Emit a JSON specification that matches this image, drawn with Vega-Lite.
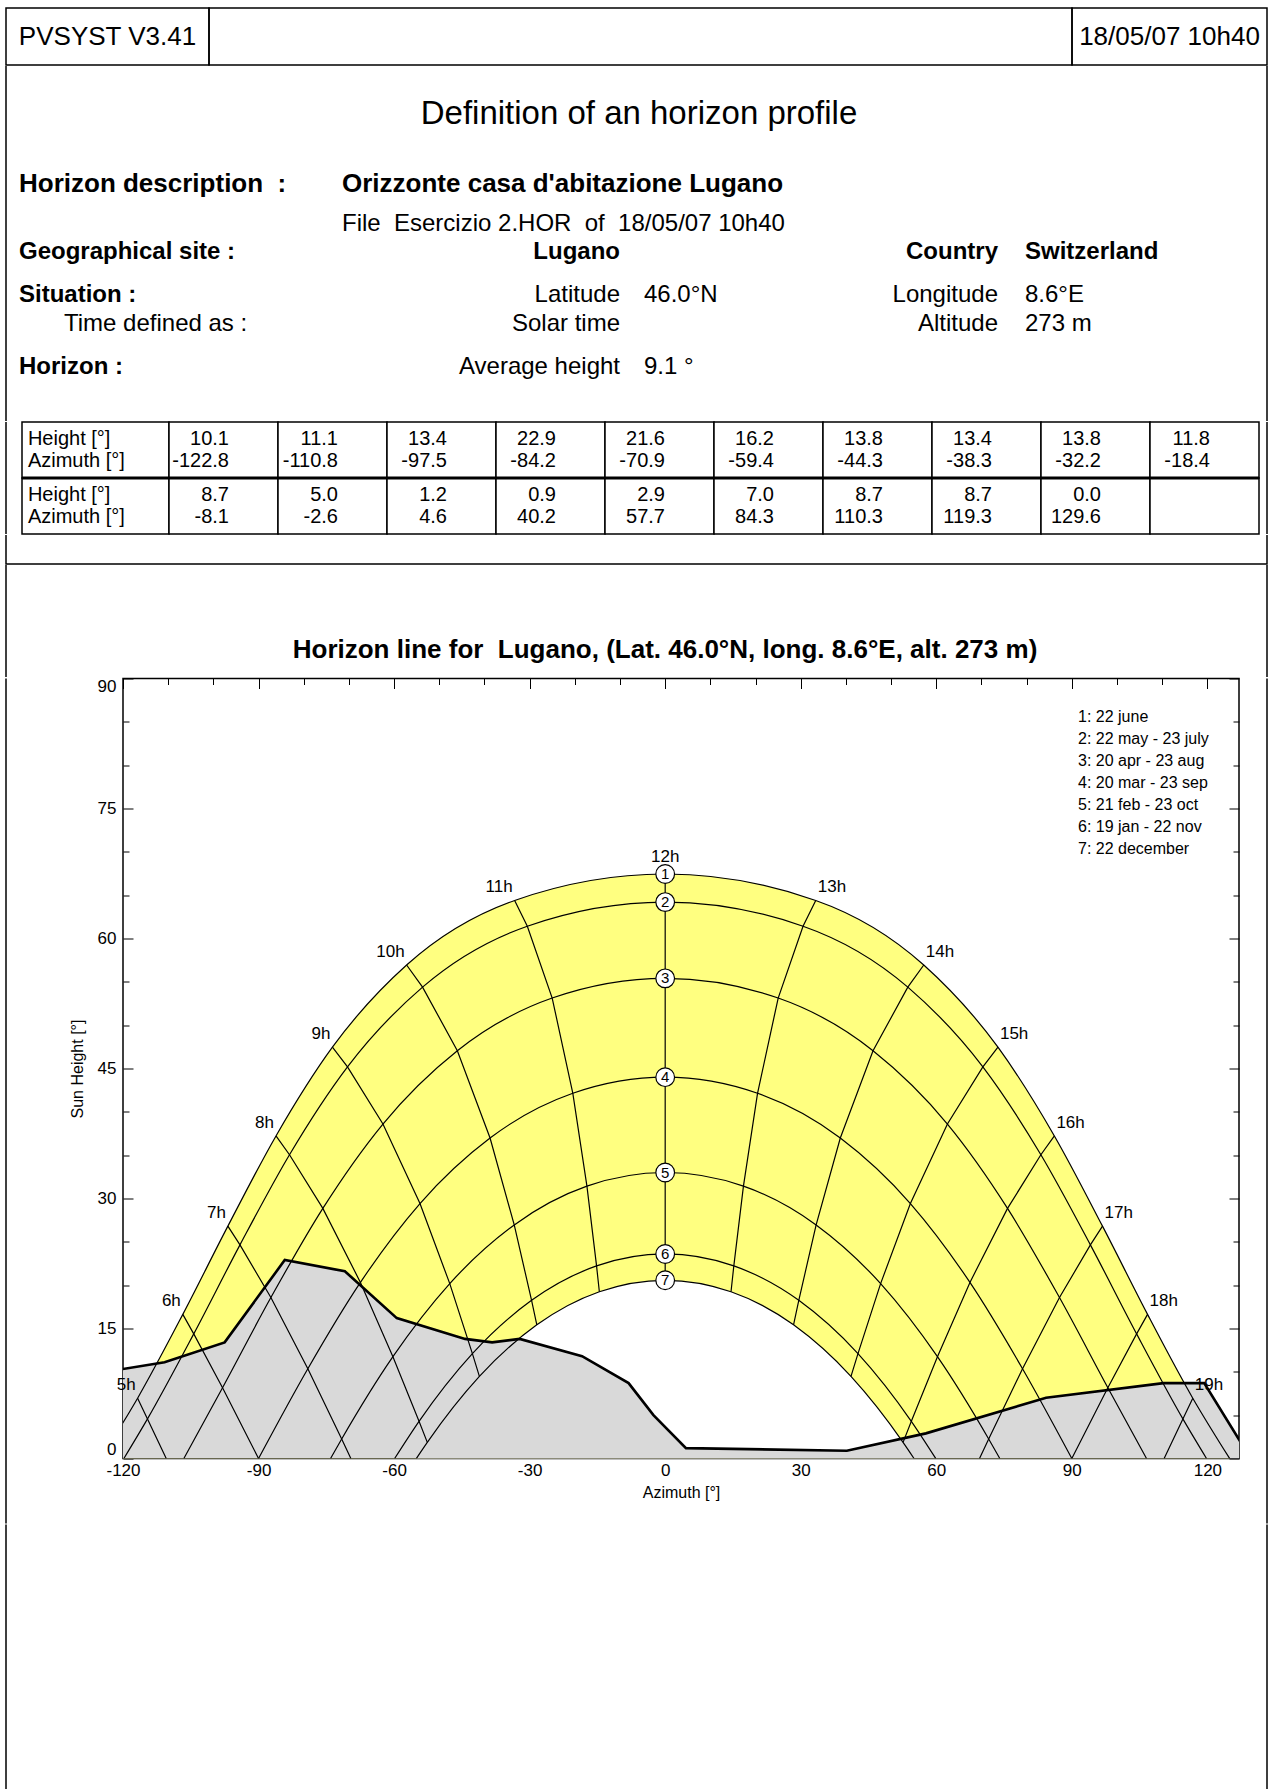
{
"$schema":"https://vega.github.io/schema/vega-lite/v6.json",
"padding":{"left":5,"top":7,"right":6,"bottom":2},
"background":"white",
"spacing":-1.5,
"resolve":{"legend":{"color":"independent"}},
"config":{
 "font":"Liberation Sans",
 "locale":{"number":{"decimal":".","thousands":",","grouping":[3],"currency":["",""],"minus":"-"}},
 "view":{"stroke":null},
 "text":{"color":"black","font":"Liberation Sans"},
 "axis":{"labelFont":"Liberation Sans","titleFont":"Liberation Sans","labelColor":"black","titleColor":"black","tickColor":"black","domain":false,"grid":false,"labelFontSize":17,"titleFontSize":16,"titleFontWeight":"normal","labelFlush":false,"labelOverlap":false,"labelBound":false},
 "legend":{"labelFont":"Liberation Sans"},
 "title":{"font":"Liberation Sans","color":"black"}
},
"datasets":{
 "header":[{"cell":"left","text":"PVSYST V3.41"},{"cell":"right","text":"18/05/07 10h40"}],
 "charttitle":[{"text":"Horizon line for\u00a0 Lugano, (Lat. 46.0°N, long. 8.6°E, alt. 273 m)"}],
 "info":[
  {"line":1,"tab":5,"text":"Definition of an horizon profile"},
  {"line":2,"tab":1,"text":"Horizon description\u00a0 :"},
  {"line":2,"tab":3,"text":"Orizzonte casa d'abitazione Lugano"},
  {"line":3,"tab":3,"text":"File\u00a0 Esercizio 2.HOR\u00a0 of\u00a0 18/05/07 10h40"},
  {"line":4,"tab":1,"text":"Geographical site :"},
  {"line":4,"tab":4,"text":"Lugano"},
  {"line":4,"tab":7,"text":"Country"},
  {"line":4,"tab":8,"text":"Switzerland"},
  {"line":5,"tab":1,"text":"Situation :"},
  {"line":5,"tab":4,"text":"Latitude"},
  {"line":5,"tab":6,"text":"46.0°N"},
  {"line":5,"tab":7,"text":"Longitude"},
  {"line":5,"tab":8,"text":"8.6°E"},
  {"line":6,"tab":2,"text":"Time defined as :"},
  {"line":6,"tab":4,"text":"Solar time"},
  {"line":6,"tab":7,"text":"Altitude"},
  {"line":6,"tab":8,"text":"273 m"},
  {"line":7,"tab":1,"text":"Horizon :"},
  {"line":7,"tab":4,"text":"Average height"},
  {"line":7,"tab":6,"text":"9.1 °"}
 ],
 "tableLabels":[{"block":1,"col":"l","hl":"Height [°]","al":"Azimuth [°]"},{"block":2,"col":"l","hl":"Height [°]","al":"Azimuth [°]"}],
 "cells":[{"block":1,"col":1},{"block":1,"col":2},{"block":1,"col":3},{"block":1,"col":4},{"block":1,"col":5},{"block":1,"col":6},{"block":1,"col":7},{"block":1,"col":8},{"block":1,"col":9},{"block":1,"col":10},{"block":2,"col":1},{"block":2,"col":2},{"block":2,"col":3},{"block":2,"col":4},{"block":2,"col":5},{"block":2,"col":6},{"block":2,"col":7},{"block":2,"col":8},{"block":2,"col":9},{"block":2,"col":10}],
 "horizon":[
  {"block":1,"col":1,"height":10.1,"azimuth":-122.8},
  {"block":1,"col":2,"height":11.1,"azimuth":-110.8},
  {"block":1,"col":3,"height":13.4,"azimuth":-97.5},
  {"block":1,"col":4,"height":22.9,"azimuth":-84.2},
  {"block":1,"col":5,"height":21.6,"azimuth":-70.9},
  {"block":1,"col":6,"height":16.2,"azimuth":-59.4},
  {"block":1,"col":7,"height":13.8,"azimuth":-44.3},
  {"block":1,"col":8,"height":13.4,"azimuth":-38.3},
  {"block":1,"col":9,"height":13.8,"azimuth":-32.2},
  {"block":1,"col":10,"height":11.8,"azimuth":-18.4},
  {"block":2,"col":1,"height":8.7,"azimuth":-8.1},
  {"block":2,"col":2,"height":5.0,"azimuth":-2.6},
  {"block":2,"col":3,"height":1.2,"azimuth":4.6},
  {"block":2,"col":4,"height":0.9,"azimuth":40.2},
  {"block":2,"col":5,"height":2.9,"azimuth":57.7},
  {"block":2,"col":6,"height":7.0,"azimuth":84.3},
  {"block":2,"col":7,"height":8.7,"azimuth":110.3},
  {"block":2,"col":8,"height":8.7,"azimuth":119.3},
  {"block":2,"col":9,"height":0.0,"azimuth":129.6}
 ],
 "dates":[
  {"date":1,"label":"1: 22 june"},
  {"date":2,"label":"2: 22 may - 23 july"},
  {"date":3,"label":"3: 20 apr - 23 aug"},
  {"date":4,"label":"4: 20 mar - 23 sep"},
  {"date":5,"label":"5: 21 feb - 23 oct"},
  {"date":6,"label":"6: 19 jan - 22 nov"},
  {"date":7,"label":"7: 22 december"}
 ],
 "points":[
  {"date":1,"decl":23.44,"az":-124.93,"h":0},
  {"date":1,"decl":23.44,"hour":"5h","az":-116.77,"h":6.96},
  {"date":1,"decl":23.44,"hour":"6h","az":-106.76,"h":16.63},
  {"date":1,"decl":23.44,"hour":"7h","az":-96.79,"h":26.81},
  {"date":1,"decl":23.44,"hour":"8h","az":-86.14,"h":37.22},
  {"date":1,"decl":23.44,"hour":"9h","az":-73.65,"h":47.46},
  {"date":1,"decl":23.44,"hour":"10h","az":-57.23,"h":56.94},
  {"date":1,"decl":23.44,"hour":"11h","az":-33.32,"h":64.39},
  {"date":1,"decl":23.44,"hour":"12h","az":0,"h":67.44},
  {"date":1,"decl":23.44,"hour":"13h","az":33.32,"h":64.39},
  {"date":1,"decl":23.44,"hour":"14h","az":57.23,"h":56.94},
  {"date":1,"decl":23.44,"hour":"15h","az":73.65,"h":47.46},
  {"date":1,"decl":23.44,"hour":"16h","az":86.14,"h":37.22},
  {"date":1,"decl":23.44,"hour":"17h","az":96.79,"h":26.81},
  {"date":1,"decl":23.44,"hour":"18h","az":106.76,"h":16.63},
  {"date":1,"decl":23.44,"hour":"19h","az":116.77,"h":6.96},
  {"date":1,"decl":23.44,"az":124.93,"h":0},
  {"date":2,"decl":20.2,"az":-119.81,"h":0},
  {"date":2,"decl":20.2,"hour":"5h","az":-114.58,"h":4.57},
  {"date":2,"decl":20.2,"hour":"6h","az":-104.34,"h":14.38},
  {"date":2,"decl":20.2,"hour":"7h","az":-94.11,"h":24.65},
  {"date":2,"decl":20.2,"hour":"8h","az":-83.15,"h":35.05},
  {"date":2,"decl":20.2,"hour":"9h","az":-70.31,"h":45.19},
  {"date":2,"decl":20.2,"hour":"10h","az":-53.7,"h":54.39},
  {"date":2,"decl":20.2,"hour":"11h","az":-30.51,"h":61.42},
  {"date":2,"decl":20.2,"hour":"12h","az":0,"h":64.2},
  {"date":2,"decl":20.2,"hour":"13h","az":30.51,"h":61.42},
  {"date":2,"decl":20.2,"hour":"14h","az":53.7,"h":54.39},
  {"date":2,"decl":20.2,"hour":"15h","az":70.31,"h":45.19},
  {"date":2,"decl":20.2,"hour":"16h","az":83.15,"h":35.05},
  {"date":2,"decl":20.2,"hour":"17h","az":94.11,"h":24.65},
  {"date":2,"decl":20.2,"hour":"18h","az":104.34,"h":14.38},
  {"date":2,"decl":20.2,"hour":"19h","az":114.58,"h":4.57},
  {"date":2,"decl":20.2,"az":119.81,"h":0},
  {"date":3,"decl":11.4,"az":-106.53,"h":0},
  {"date":3,"decl":11.4,"hour":"6h","az":-97.97,"h":8.17},
  {"date":3,"decl":11.4,"hour":"7h","az":-87.27,"h":18.57},
  {"date":3,"decl":11.4,"hour":"8h","az":-75.77,"h":28.86},
  {"date":3,"decl":11.4,"hour":"9h","az":-62.47,"h":38.59},
  {"date":3,"decl":11.4,"hour":"10h","az":-46.0,"h":47.05},
  {"date":3,"decl":11.4,"hour":"11h","az":-25.01,"h":53.13},
  {"date":3,"decl":11.4,"hour":"12h","az":0,"h":55.4},
  {"date":3,"decl":11.4,"hour":"13h","az":25.01,"h":53.13},
  {"date":3,"decl":11.4,"hour":"14h","az":46.0,"h":47.05},
  {"date":3,"decl":11.4,"hour":"15h","az":62.47,"h":38.59},
  {"date":3,"decl":11.4,"hour":"16h","az":75.77,"h":28.86},
  {"date":3,"decl":11.4,"hour":"17h","az":87.27,"h":18.57},
  {"date":3,"decl":11.4,"hour":"18h","az":97.97,"h":8.17},
  {"date":3,"decl":11.4,"az":106.53,"h":0},
  {"date":4,"decl":0,"hour":"6h","az":-90,"h":0},
  {"date":4,"decl":0,"hour":"7h","az":-79.09,"h":10.36},
  {"date":4,"decl":0,"hour":"8h","az":-67.45,"h":20.32},
  {"date":4,"decl":0,"hour":"9h","az":-54.27,"h":29.42},
  {"date":4,"decl":0,"hour":"10h","az":-38.76,"h":36.98},
  {"date":4,"decl":0,"hour":"11h","az":-20.44,"h":42.14},
  {"date":4,"decl":0,"hour":"12h","az":0,"h":44.0},
  {"date":4,"decl":0,"hour":"13h","az":20.44,"h":42.14},
  {"date":4,"decl":0,"hour":"14h","az":38.76,"h":36.98},
  {"date":4,"decl":0,"hour":"15h","az":54.27,"h":29.42},
  {"date":4,"decl":0,"hour":"16h","az":67.45,"h":20.32},
  {"date":4,"decl":0,"hour":"17h","az":79.09,"h":10.36},
  {"date":4,"decl":0,"hour":"18h","az":90,"h":0},
  {"date":5,"decl":-11.0,"az":-74.06,"h":0},
  {"date":5,"decl":-11.0,"hour":"7h","az":-71.6,"h":2.25},
  {"date":5,"decl":-11.0,"hour":"8h","az":-60.26,"h":11.75},
  {"date":5,"decl":-11.0,"hour":"9h","az":-47.68,"h":20.18},
  {"date":5,"decl":-11.0,"hour":"10h","az":-33.41,"h":26.95},
  {"date":5,"decl":-11.0,"hour":"11h","az":-17.32,"h":31.43},
  {"date":5,"decl":-11.0,"hour":"12h","az":0,"h":33.0},
  {"date":5,"decl":-11.0,"hour":"13h","az":17.32,"h":31.43},
  {"date":5,"decl":-11.0,"hour":"14h","az":33.41,"h":26.95},
  {"date":5,"decl":-11.0,"hour":"15h","az":47.68,"h":20.18},
  {"date":5,"decl":-11.0,"hour":"16h","az":60.26,"h":11.75},
  {"date":5,"decl":-11.0,"hour":"17h","az":71.6,"h":2.25},
  {"date":5,"decl":-11.0,"az":74.06,"h":0},
  {"date":6,"decl":-20.4,"az":-59.88,"h":0},
  {"date":6,"decl":-20.4,"hour":"8h","az":-54.48,"h":4.29},
  {"date":6,"decl":-20.4,"hour":"9h","az":-42.67,"h":12.1},
  {"date":6,"decl":-20.4,"hour":"10h","az":-29.57,"h":18.25},
  {"date":6,"decl":-20.4,"hour":"11h","az":-15.19,"h":22.22},
  {"date":6,"decl":-20.4,"hour":"12h","az":0,"h":23.6},
  {"date":6,"decl":-20.4,"hour":"13h","az":15.19,"h":22.22},
  {"date":6,"decl":-20.4,"hour":"14h","az":29.57,"h":18.25},
  {"date":6,"decl":-20.4,"hour":"15h","az":42.67,"h":12.1},
  {"date":6,"decl":-20.4,"hour":"16h","az":54.48,"h":4.29},
  {"date":6,"decl":-20.4,"az":59.88,"h":0},
  {"date":7,"decl":-23.44,"az":-55.07,"h":0},
  {"date":7,"decl":-23.44,"hour":"8h","az":-52.65,"h":1.86},
  {"date":7,"decl":-23.44,"hour":"9h","az":-41.12,"h":9.47},
  {"date":7,"decl":-23.44,"hour":"10h","az":-28.41,"h":15.42},
  {"date":7,"decl":-23.44,"hour":"11h","az":-14.57,"h":19.24},
  {"date":7,"decl":-23.44,"hour":"12h","az":0,"h":20.56},
  {"date":7,"decl":-23.44,"hour":"13h","az":14.57,"h":19.24},
  {"date":7,"decl":-23.44,"hour":"14h","az":28.41,"h":15.42},
  {"date":7,"decl":-23.44,"hour":"15h","az":41.12,"h":9.47},
  {"date":7,"decl":-23.44,"hour":"16h","az":52.65,"h":1.86},
  {"date":7,"decl":-23.44,"az":55.07,"h":0},
  {"decl":14.03,"hour":"5h","az":-110.43,"h":0},
  {"decl":14.03,"hour":"19h","az":110.43,"h":0},
  {"decl":-14.03,"hour":"7h","az":-69.57,"h":0},
  {"decl":-14.03,"hour":"17h","az":69.57,"h":0}
 ]
},
"vconcat":[
 {"hconcat":[
   {"width":203,"height":57,"data":{"name":"header"},"transform":[{"filter":"datum.cell == 'left'"}],
    "mark":{"type":"text","fontSize":26,"baseline":"middle","align":"center"},
    "encoding":{"text":{"field":"text"}},
    "view":{"stroke":"black","strokeWidth":1.5}},
   {"width":863,"height":57,"data":{"values":[{}]},"mark":{"type":"text"},"encoding":{"text":{"value":""}},
    "view":{"stroke":"black","strokeWidth":1.5}},
   {"width":195,"height":57,"data":{"name":"header"},"transform":[{"filter":"datum.cell == 'right'"}],
    "mark":{"type":"text","fontSize":26,"baseline":"middle","align":"center"},
    "encoding":{"text":{"field":"text"}},
    "view":{"stroke":"black","strokeWidth":1.5}}
  ],"spacing":0,"bounds":"flush"},
 {"width":1261,"height":355,"data":{"name":"info"},
  "mark":{"type":"text","baseline":"middle",
    "align":{"expr":"datum.tab == 4 || datum.tab == 7 ? 'right' : (datum.tab == 5 ? 'center' : 'left')"},
    "fontWeight":{"expr":"datum.line == 2 || datum.line == 4 || datum.tab == 1 ? 'bold' : 'normal'"},
    "fontSize":{"expr":"datum.line == 1 ? 33 : (datum.line == 2 ? 26 : 24)"}},
  "encoding":{
    "x":{"field":"tab","type":"quantitative","scale":{"domain":[1,2,3,4,5,6,7,8],"range":[13,58,336,614,633,638,992,1019]},"axis":null},
    "y":{"field":"line","type":"quantitative","scale":{"domain":[1,2,3,4,5,6,7],"range":[48,118,158,186,229,258,301]},"axis":null},
    "text":{"field":"text"}},
  "view":{"stroke":"black","strokeWidth":1.5,"strokeDash":[0,1261,355,1261,355]}},
 {"hconcat":[
   {"width":16,"height":112,"data":{"values":[{}]},"mark":{"type":"text"},"encoding":{"text":{"value":""}},
    "view":{"stroke":"black","strokeWidth":1.5,"strokeDash":[0,144,112]}},
   {"width":147,"height":112,"data":{"name":"tableLabels"},
    "layer":[
     {"mark":{"type":"rect","fill":"white","stroke":"black","strokeWidth":1.5},
      "encoding":{"y":{"field":"block","type":"ordinal","scale":{"type":"band","domain":[1,2],"paddingInner":0,"paddingOuter":0},"axis":null}}},
     {"transform":[{"filter":"datum.block == 2"}],"mark":{"type":"rule","color":"black","strokeWidth":2.8},
      "encoding":{"y":{"field":"block","type":"ordinal","bandPosition":0,"axis":null}}},
     {"mark":{"type":"text","fontSize":20,"align":"left","baseline":"middle"},
      "encoding":{"x":{"field":"col","type":"nominal","bandPosition":0.04,"scale":{"type":"band","paddingInner":0,"paddingOuter":0},"axis":null},
       "y":{"field":"block","type":"ordinal","bandPosition":0.3,"axis":null},"text":{"field":"hl"}}},
     {"mark":{"type":"text","fontSize":20,"align":"left","baseline":"middle"},
      "encoding":{"x":{"field":"col","type":"nominal","bandPosition":0.04,"axis":null},
       "y":{"field":"block","type":"ordinal","bandPosition":0.7,"axis":null},"text":{"field":"al"}}}
    ]},
   {"width":1090,"height":112,
    "layer":[
     {"data":{"name":"cells"},"mark":{"type":"rect","fill":"white","stroke":"black","strokeWidth":1.5},
      "encoding":{"x":{"field":"col","type":"ordinal","scale":{"type":"band","domain":[1,2,3,4,5,6,7,8,9,10],"paddingInner":0,"paddingOuter":0},"axis":null},
       "y":{"field":"block","type":"ordinal","scale":{"type":"band","domain":[1,2],"paddingInner":0,"paddingOuter":0},"axis":null}}},
     {"data":{"name":"tableLabels"},"transform":[{"filter":"datum.block == 2"}],"mark":{"type":"rule","color":"black","strokeWidth":2.8},
      "encoding":{"y":{"field":"block","type":"ordinal","bandPosition":0,"axis":null}}},
     {"data":{"name":"horizon"},"mark":{"type":"text","fontSize":20,"align":"right","baseline":"middle"},
      "encoding":{"x":{"field":"col","type":"ordinal","bandPosition":0.55,"axis":null},
       "y":{"field":"block","type":"ordinal","bandPosition":0.3,"axis":null},
       "text":{"field":"height","type":"quantitative","format":".1f"}}},
     {"data":{"name":"horizon"},"mark":{"type":"text","fontSize":20,"align":"right","baseline":"middle"},
      "encoding":{"x":{"field":"col","type":"ordinal","bandPosition":0.55,"axis":null},
       "y":{"field":"block","type":"ordinal","bandPosition":0.7,"axis":null},
       "text":{"field":"azimuth","type":"quantitative","format":".1f"}}}
    ]},
   {"width":8,"height":112,"data":{"values":[{}]},"mark":{"type":"text"},"encoding":{"text":{"value":""}},
    "view":{"stroke":"black","strokeWidth":1.5,"strokeDash":[0,8,112,120]}}
  ],"spacing":0,"bounds":"flush"},
 {"width":1261,"height":29,"data":{"values":[{}]},"mark":{"type":"text"},"encoding":{"text":{"value":""}},
  "view":{"stroke":"black","strokeWidth":1.5,"strokeDash":[0,1261,1319]}},
 {"hconcat":[
   {"width":117,"height":112,"data":{"values":[{}]},"mark":{"type":"text"},"encoding":{"text":{"value":""}},
    "view":{"stroke":"black","strokeWidth":1.5,"strokeDash":[0,346,112]}},
   {"width":1116,"height":112,"data":{"name":"charttitle"},
    "mark":{"type":"text","fontSize":26,"fontWeight":"bold","align":"center","baseline":"middle","dx":-16,"dy":28.5},
    "encoding":{"text":{"field":"text"}}},
   {"width":28,"height":112,"data":{"values":[{}]},"mark":{"type":"text"},"encoding":{"text":{"value":""}},
    "view":{"stroke":"black","strokeWidth":1.5,"strokeDash":[0,28,112,140]}}
  ],"spacing":0,"bounds":"flush"},
 {"hconcat":[
   {"width":117,"height":845,"data":{"values":[{}]},"mark":{"type":"text"},"encoding":{"text":{"value":""}},
    "view":{"stroke":"black","strokeWidth":1.5,"strokeDash":[0,1079,845]}},
   {"width":1116,"height":780,
    "view":{"stroke":"black","strokeWidth":1.5},
    "resolve":{"axis":{"x":"independent","y":"independent"}},
    "layer":[
     {"data":{"name":"points"},"transform":[{"filter":"datum.date == 1"}],
      "mark":{"type":"area","interpolate":"monotone","fill":"#FFFF80","clip":true},
      "encoding":{
       "x":{"field":"az","type":"quantitative","scale":{"domain":[-120,127],"nice":false,"zero":false},
        "axis":{"orient":"bottom","values":[-120,-110,-100,-90,-80,-70,-60,-50,-40,-30,-20,-10,0,10,20,30,40,50,60,70,80,90,100,110,120],
         "labelExpr":"datum.value % 30 === 0 ? '' + datum.value : ''",
         "tickSize":{"condition":{"test":"datum.value % 30 === 0","value":-10},"value":-6},
         "labelPadding":14,"title":"Azimuth [°]","titlePadding":2}},
       "y":{"field":"h","type":"quantitative","scale":{"domain":[0,90],"nice":false,"zero":false},
        "axis":{"orient":"left","values":[0,5,10,15,20,25,30,35,40,45,50,55,60,65,70,75,80,85,90],
         "labelExpr":"datum.value % 15 === 0 ? '' + datum.value : ''",
         "tickSize":{"condition":{"test":"datum.value % 15 === 0","value":-10},"value":-6},
         "labelFlush":true,"labelPadding":17,"title":"Sun Height [°]","titlePadding":12}}}},
     {"data":{"name":"points"},"transform":[{"filter":"datum.date == 7"}],
      "mark":{"type":"area","interpolate":"monotone","fill":"white","clip":true},
      "encoding":{
       "x":{"field":"az","type":"quantitative",
        "axis":{"orient":"top","values":[-120,-110,-100,-90,-80,-70,-60,-50,-40,-30,-20,-10,0,10,20,30,40,50,60,70,80,90,100,110,120],
         "labels":false,"tickSize":{"condition":{"test":"datum.value % 30 === 0","value":-10},"value":-6},"title":null}},
       "y":{"field":"h","type":"quantitative",
        "axis":{"orient":"right","values":[0,5,10,15,20,25,30,35,40,45,50,55,60,65,70,75,80,85,90],
         "labels":false,"tickSize":{"condition":{"test":"datum.value % 15 === 0","value":-10},"value":-6},"title":null}}}},
     {"data":{"name":"horizon"},
      "mark":{"type":"area","fill":"#D9D9D9","clip":true},
      "encoding":{"x":{"field":"azimuth","type":"quantitative","axis":null},"y":{"field":"height","type":"quantitative","axis":null}}},
     {"data":{"name":"points"},"transform":[{"filter":"isValid(datum.hour)"}],
      "mark":{"type":"line","color":"black","strokeWidth":1.2,"clip":true},
      "encoding":{"x":{"field":"az","type":"quantitative","axis":null},"y":{"field":"h","type":"quantitative","axis":null},
       "detail":{"field":"hour"},"order":{"field":"decl","type":"quantitative","sort":"descending"}}},
     {"data":{"name":"points"},"transform":[{"filter":"isValid(datum.date)"},{"lookup":"date","from":{"data":{"name":"dates"},"key":"date","fields":["label"]}}],
      "mark":{"type":"line","interpolate":"monotone","strokeWidth":1.2,"clip":true},
      "encoding":{"x":{"field":"az","type":"quantitative","axis":null},"y":{"field":"h","type":"quantitative","axis":null},
       "color":{"field":"label","type":"nominal","scale":{"range":["black"]},
        "legend":{"orient":"top-right","offset":30,"padding":0,"title":null,"labelFontSize":16,"labelColor":"black","symbolType":"stroke","symbolSize":0,"symbolStrokeWidth":0,"symbolOpacity":0,"labelOffset":0,"rowPadding":6}}}},
     {"data":{"name":"horizon"},
      "mark":{"type":"line","color":"black","strokeWidth":2.6,"clip":true},
      "encoding":{"x":{"field":"azimuth","type":"quantitative","axis":null},"y":{"field":"height","type":"quantitative","axis":null}}},
     {"data":{"name":"points"},"transform":[{"filter":"datum.az == 0 && isValid(datum.date)"}],
      "mark":{"type":"point","shape":"circle","filled":true,"fill":"white","stroke":"black","strokeWidth":1.2,"size":350,"opacity":1},
      "encoding":{"x":{"field":"az","type":"quantitative","axis":null},"y":{"field":"h","type":"quantitative","axis":null}}},
     {"data":{"name":"points"},"transform":[{"filter":"datum.az == 0 && isValid(datum.date)"}],
      "mark":{"type":"text","fontSize":15,"baseline":"middle","align":"center"},
      "encoding":{"x":{"field":"az","type":"quantitative","axis":null},"y":{"field":"h","type":"quantitative","axis":null},"text":{"field":"date","type":"nominal"}}},
     {"data":{"name":"points"},"transform":[{"filter":"datum.date == 1 && isValid(datum.hour) && datum.az < 0"}],
      "mark":{"type":"text","fontSize":17,"baseline":"alphabetic","align":"right","dx":-2,"dy":-8},
      "encoding":{"x":{"field":"az","type":"quantitative","axis":null},"y":{"field":"h","type":"quantitative","axis":null},"text":{"field":"hour"}}},
     {"data":{"name":"points"},"transform":[{"filter":"datum.date == 1 && isValid(datum.hour) && datum.az > 0"}],
      "mark":{"type":"text","fontSize":17,"baseline":"alphabetic","align":"left","dx":2,"dy":-8},
      "encoding":{"x":{"field":"az","type":"quantitative","axis":null},"y":{"field":"h","type":"quantitative","axis":null},"text":{"field":"hour"}}},
     {"data":{"name":"points"},"transform":[{"filter":"datum.date == 1 && datum.az == 0"}],
      "mark":{"type":"text","fontSize":17,"baseline":"alphabetic","align":"center","dy":-12},
      "encoding":{"x":{"field":"az","type":"quantitative","axis":null},"y":{"field":"h","type":"quantitative","axis":null},"text":{"field":"hour"}}}
    ]},
   {"width":28,"height":845,"data":{"values":[{}]},"mark":{"type":"text"},"encoding":{"text":{"value":""}},
    "view":{"stroke":"black","strokeWidth":1.5,"strokeDash":[0,28,845,873]}}
  ],"spacing":0,"bounds":"flush","resolve":{"legend":{"color":"independent"}}},
 {"width":1261,"height":268,"data":{"values":[{}]},"mark":{"type":"text"},"encoding":{"text":{"value":""}},
  "view":{"stroke":"black","strokeWidth":1.5,"strokeDash":[0,1261,1797]}}
]
}
